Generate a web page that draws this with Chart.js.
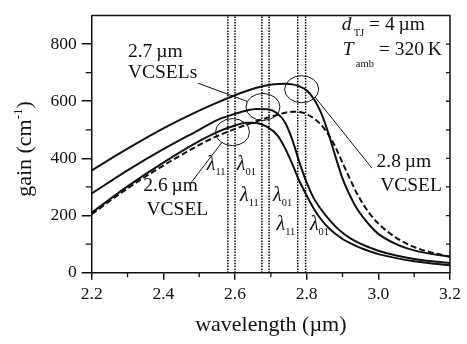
<!DOCTYPE html>
<html>
<head>
<meta charset="utf-8">
<script src="https://cdn.jsdelivr.net/npm/chart.js@4"></script>
<style>
html,body{margin:0;padding:0;background:#fff;}
</style>
</head>
<body>
<canvas id="gainChart" width="467" height="344"></canvas>
<script>
// wavelength grid (µm) and gain curves (cm^-1)
const wavelength = [2.2, 2.3, 2.4, 2.5, 2.55, 2.6, 2.63, 2.66, 2.69, 2.72, 2.74, 2.76, 2.78, 2.80, 2.82, 2.84, 2.86, 2.88, 2.90, 2.92, 2.94, 2.96, 2.98, 3.0, 3.05, 3.1, 3.15, 3.2];
const gain28 = [358, 434, 505, 567, 595, 621, 635, 647, 656, 660, 661, 659, 652, 638, 608, 560, 490, 408, 330, 272, 225, 190, 160, 136, 100, 78, 65, 57];
const gain27 = [277, 358, 432, 500, 534, 556, 567, 573, 572, 555, 525, 465, 385, 315, 260, 222, 190, 162, 140, 122, 108, 96, 86, 77, 60, 48, 40, 34];
const gain26 = [210, 302, 385, 460, 492, 515, 525, 524, 510, 478, 435, 380, 320, 270, 224, 187, 158, 136, 118, 104, 92, 82, 73, 65, 51, 40, 32, 26];
const gainDashed = [205, 295, 375, 447, 478, 503, 517, 530, 542, 553, 560, 563, 562, 555, 540, 518, 485, 440, 385, 330, 278, 235, 200, 172, 122, 90, 70, 56];

// resonance wavelengths (lambda11 / lambda01 pairs)
const modeLines = [2.58, 2.60, 2.675, 2.695, 2.775, 2.797];
const circleCenters = [[2.593, 492], [2.678, 580], [2.786, 642]];
const pointers = [
  [[2.497, 663], [2.635, 599]],
  [[2.823, 615], [2.982, 366]],
  [[2.473, 308], [2.563, 455]]
];

const xTicks = [2.2, 2.4, 2.6, 2.8, 3.0, 3.2];
const xMinor = [2.3, 2.5, 2.7, 2.9, 3.1];
const yTicks = [0, 200, 400, 600, 800];
const yMinor = [100, 300, 500, 700];
const yRight = [100, 200, 300, 400, 500, 600, 700, 800];

const serif = '"Liberation Serif", "Times New Roman", serif';
const ink = '#111';
const R = `19.5px ${serif}`;
const I = `italic 19.5px ${serif}`;
const L = `italic 20px ${serif}`;
const S = `10.5px ${serif}`;

// text placed in data coordinates
const notes = [
  [2.301, 755, [['2.7\u2009µm', R]]],
  [2.301, 680, [['VCSELs', R]]],
  [2.344, 287, [['2.6\u2009µm', R]]],
  [2.353, 202, [['VCSEL', R]]],
  [2.995, 371, [['2.8\u2009µm', R]]],
  [3.005, 286, [['VCSEL', R]]],
  [2.898, 851, [['d', I], ['\u2009TJ', S, 6], [' = 4\u2009µm', R]]],
  [2.901, 761, [['T', I], ['\u2009amb', S, 12], [' = 320\u2009K', R]]],
  [2.521, 359, [['λ', L], ['11', S, 5]]],
  [2.605, 359, [['λ', L], ['01', S, 5]]],
  [2.614, 250, [['λ', L], ['11', S, 5]]],
  [2.706, 250, [['λ', L], ['01', S, 5]]],
  [2.716, 148, [['λ', L], ['11', S, 5]]],
  [2.809, 148, [['λ', L], ['01', S, 5]]]
];

function rich(ctx, px, py, parts) {
  let cx = px;
  parts.forEach(([t, font, dy]) => {
    ctx.font = font;
    ctx.fillText(t, cx, py + (dy || 0));
    cx += ctx.measureText(t).width;
  });
}
function richWidth(ctx, parts) {
  return parts.reduce((w, [t, font]) => { ctx.font = font; return w + ctx.measureText(t).width; }, 0);
}

const decorations = {
  id: 'decorations',
  afterDatasetsDraw(chart) {
    const {ctx, chartArea: a, scales: {x, y}} = chart;
    ctx.save();
    ctx.strokeStyle = ink;
    ctx.fillStyle = ink;

    // circles around the mode positions
    ctx.lineWidth = 1;
    circleCenters.forEach(([cx, cy]) => {
      ctx.beginPath();
      ctx.ellipse(x.getPixelForValue(cx), y.getPixelForValue(cy), 17, 13.5, 0, 0, Math.PI * 2);
      ctx.stroke();
    });

    // top + right frame, minor ticks
    ctx.lineWidth = 1.5;
    ctx.beginPath();
    ctx.moveTo(a.left, a.top); ctx.lineTo(a.right, a.top); ctx.lineTo(a.right, a.bottom);
    ctx.stroke();
    ctx.lineWidth = 1.3;
    ctx.beginPath();
    yMinor.forEach(v => { const p = y.getPixelForValue(v); ctx.moveTo(a.left - 6, p); ctx.lineTo(a.left, p); });
    yRight.forEach(v => { const p = y.getPixelForValue(v); ctx.moveTo(a.right - 4, p); ctx.lineTo(a.right, p); });
    xMinor.forEach(v => { const p = x.getPixelForValue(v); ctx.moveTo(p, a.bottom); ctx.lineTo(p, a.bottom + 4.5); });
    ctx.stroke();

    ctx.textAlign = 'left';
    ctx.textBaseline = 'alphabetic';
    notes.forEach(([nx, ny, parts]) => rich(ctx, x.getPixelForValue(nx), y.getPixelForValue(ny), parts));

    // axis titles
    const T = `22px ${serif}`;
    ctx.font = T;
    ctx.textAlign = 'center';
    ctx.fillText('wavelength (µm)', (a.left + a.right) / 2, a.bottom + 58);
    ctx.textAlign = 'left';
    const yTitle = [['gain (cm', T], ['-1', `13px ${serif}`, -9], [')', T]];
    ctx.translate(31, 149);
    ctx.rotate(-Math.PI / 2);
    rich(ctx, -richWidth(ctx, yTitle) / 2, 0, yTitle);
    ctx.restore();
  }
};

const toPts = ys => wavelength.map((x, i) => ({x, y: ys[i]}));
const curve = (ys, dash) => ({
  data: toPts(ys), borderColor: ink, borderWidth: 2, borderDash: dash || [],
  pointRadius: 0, cubicInterpolationMode: 'monotone', fill: false
});

const datasets = [
  ...modeLines.map(v => ({data: [{x: v, y: 0}, {x: v, y: 900}], borderColor: '#000', borderWidth: 1.5, borderDash: [1.5, 1.3], pointRadius: 0})),
  ...pointers.map(p => ({data: p.map(([px, py]) => ({x: px, y: py})), borderColor: ink, borderWidth: 1, pointRadius: 0})),
  curve(gainDashed, [6, 3]),
  curve(gain26),
  curve(gain27),
  curve(gain28)
];

new Chart(document.getElementById('gainChart'), {
  type: 'line',
  data: {datasets},
  plugins: [decorations],
  options: {
    responsive: false,
    animation: false,
    layout: {padding: {top: 6.7, right: 17, left: 0, bottom: 0}},
    plugins: {legend: {display: false}, tooltip: {enabled: false}},
    scales: {
      x: {
        type: 'linear', min: 2.2, max: 3.2,
        afterBuildTicks: s => { s.ticks = xTicks.map(v => ({value: v})); },
        afterFit: s => { s.height = 71.3; },
        ticks: {font: {family: serif, size: 17.5}, color: ink, padding: 4, maxRotation: 0, callback: v => v.toFixed(1)},
        grid: {drawOnChartArea: false, tickLength: 7, color: ink, lineWidth: 1.5},
        border: {color: ink, width: 1.5}
      },
      y: {
        min: 0, max: 900,
        afterBuildTicks: s => { s.ticks = yTicks.map(v => ({value: v})); },
        afterFit: s => { s.width = 91.7; },
        ticks: {font: {family: serif, size: 17.5}, color: ink, padding: 5},
        grid: {drawOnChartArea: false, tickLength: 10, color: ink, lineWidth: 1.5},
        border: {color: ink, width: 1.5}
      }
    }
  }
});
</script>
</body>
</html>
